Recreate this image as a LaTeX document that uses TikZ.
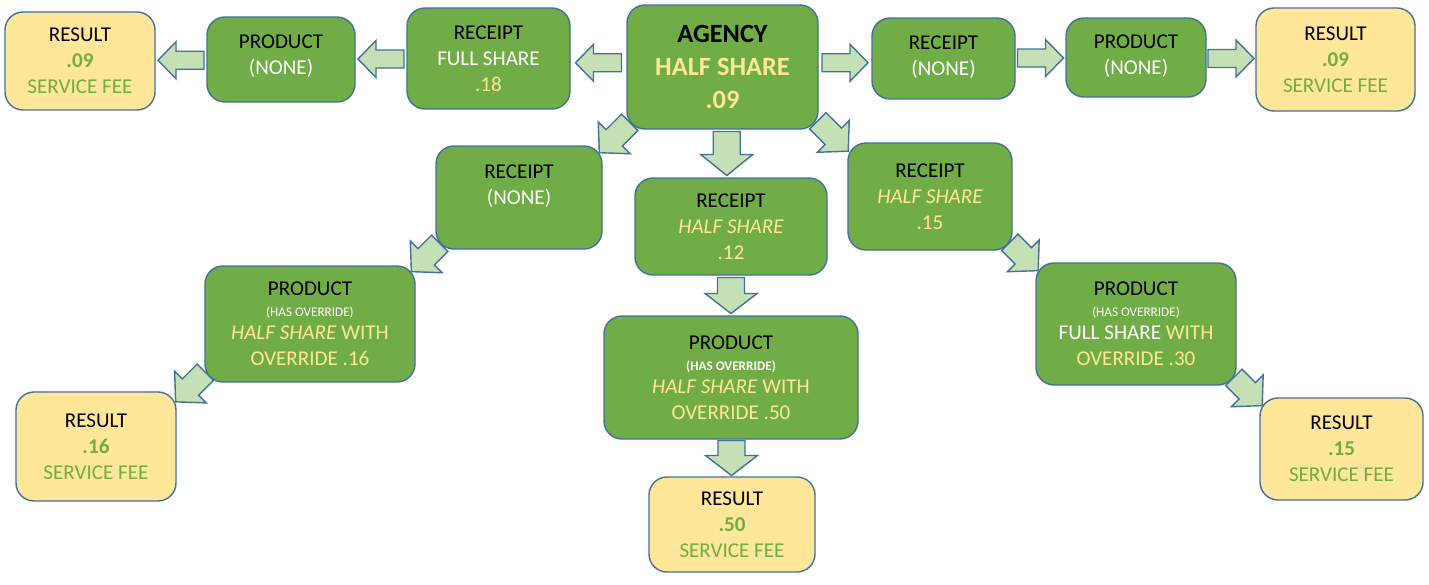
\documentclass[tikz,border=0pt]{standalone}
\usepackage{fontspec}
\setmainfont{Carlito}
\usetikzlibrary{calc}

\definecolor{boxgreen}{HTML}{70AD47}
\definecolor{edgeblue}{HTML}{41719C}
\definecolor{arrowgreen}{HTML}{C5E0B4}
\definecolor{paleyellow}{HTML}{FFE699}

\tikzset{
  stage/.style={draw=edgeblue, fill=boxgreen, line width=0.8pt, rounded corners=0.36cm,
    align=center, inner sep=2pt, font=\fontsize{12}{14.7}\selectfont},
  result/.style={stage, fill=paleyellow},
  flow/.style={draw=edgeblue, fill=arrowgreen, line width=0.8pt, line join=miter}
}

\newcommand{\yel}[1]{{\color{paleyellow}#1}}
\newcommand{\wht}[1]{{\color{white}#1}}
\newcommand{\grn}[1]{{\color{boxgreen}#1}}
\newcommand{\hasoverride}[1][]{{\fontsize{7.5}{9}\selectfont#1\color{white}(HAS OVERRIDE)}}
% block arrow: centre, angle, length, shaft, head width, head length
\newcommand{\flowarrow}[6]{%
  \draw[flow, shift={(#1)}, rotate=#2]
    (-#3/2,-#4/2) -- ({#3/2-#6},-#4/2) -- ({#3/2-#6},-#5/2) -- (#3/2,0)
    -- ({#3/2-#6},#5/2) -- ({#3/2-#6},#4/2) -- (-#3/2,#4/2) -- cycle;}

\begin{document}
\begin{tikzpicture}
\useasboundingbox (0,0) rectangle (28.58,-11.68);
% top row
\node[result, minimum width=3.00cm, minimum height=1.96cm] (r1) at (1.60,-1.22)
  {RESULT\\\grn{\textbf{.09}}\\\grn{SERVICE FEE}};
\node[stage, minimum width=2.96cm, minimum height=1.70cm] (p1) at (5.62,-1.19)
  {PRODUCT\\\wht{(NONE)}\\[-9pt]\mbox{}};
\node[stage, minimum width=3.26cm, minimum height=2.02cm] (rc1) at (9.77,-1.17)
  {RECEIPT\\\wht{FULL SHARE}\\\yel{.18}};
\node[stage, minimum width=3.82cm, minimum height=2.48cm,
  font=\fontsize{15}{18.7}\selectfont\bfseries] (ag) at (14.45,-1.34)
  {AGENCY\\\yel{HALF SHARE}\\\yel{.09}};
\node[stage, minimum width=2.86cm, minimum height=1.62cm] (rc2) at (18.87,-1.17)
  {RECEIPT\\\wht{(NONE)}\\[-11pt]\mbox{}};
\node[stage, minimum width=2.80cm, minimum height=1.58cm] (p2) at (22.72,-1.15)
  {PRODUCT\\\wht{(NONE)}\\[-11pt]\mbox{}};
\node[result, minimum width=3.18cm, minimum height=2.06cm] (r2) at (26.71,-1.19)
  {RESULT\\\grn{\textbf{.09}}\\\grn{SERVICE FEE}};
% receipts
\node[stage, minimum width=3.32cm, minimum height=2.06cm] (rc3) at (10.38,-3.95)
  {RECEIPT\\\wht{(NONE)}\\\mbox{}};
\node[stage, minimum width=3.84cm, minimum height=1.94cm] (rc4) at (14.62,-4.53)
  {RECEIPT\\\yel{\itshape HALF SHARE}\\\yel{.12}};
\node[stage, minimum width=3.28cm, minimum height=2.14cm] (rc5) at (18.60,-3.93)
  {RECEIPT\\\yel{\itshape HALF SHARE}\\\yel{.15}};
% products
\node[stage, minimum width=4.20cm, minimum height=2.32cm] (p3) at (6.20,-6.48)
  {PRODUCT\\[-3pt]\hasoverride\\[-1.5pt]\yel{\textit{HALF SHARE} WITH}\\\yel{OVERRIDE .16}};
\node[stage, minimum width=5.08cm, minimum height=2.46cm] (p4) at (14.62,-7.55)
  {PRODUCT\\[-3pt]\hasoverride[\bfseries]\\[-1.5pt]\yel{\textit{HALF SHARE} WITH}\\\yel{OVERRIDE .50}};
\node[stage, minimum width=4.00cm, minimum height=2.44cm] (p5) at (22.72,-6.48)
  {PRODUCT\\[-3pt]\hasoverride\\[-1.5pt]\wht{FULL SHARE} \yel{WITH}\\\yel{OVERRIDE .30}};
% results
\node[result, minimum width=3.20cm, minimum height=2.18cm] (r3) at (1.92,-8.93)
  {RESULT\\\grn{\textbf{.16}}\\\grn{SERVICE FEE}};
\node[result, minimum width=3.32cm, minimum height=1.90cm] (r4) at (14.64,-10.49)
  {RESULT\\\grn{\textbf{.50}}\\\grn{SERVICE FEE}};
\node[result, minimum width=3.26cm, minimum height=2.04cm] (r5) at (26.83,-8.98)
  {RESULT\\\grn{\textbf{.15}}\\\grn{SERVICE FEE}};
% arrows along the top
\flowarrow{$(ag.west)!.5!(rc1.east)$}{180}{0.92}{0.36}{0.74}{0.36}
\flowarrow{$(rc1.west)!.5!(p1.east)$}{180}{0.92}{0.36}{0.74}{0.36}
\flowarrow{$(p1.west)!.5!(r1.east)$}{180}{0.92}{0.36}{0.74}{0.36}
\flowarrow{$(ag.east)!.5!(rc2.west)$}{0}{0.92}{0.36}{0.74}{0.36}
\flowarrow{$(rc2.east)!.5!(p2.west)$}{0}{0.92}{0.36}{0.74}{0.36}
\flowarrow{$(p2.east)!.5!(r2.west)$}{0}{0.92}{0.36}{0.74}{0.36}
% arrows down the middle
\flowarrow{$(ag.south)!.5!(rc4.north)$}{-90}{0.88}{0.54}{1.04}{0.42}
\flowarrow{$(rc4.south)!.5!(p4.north)$}{-90}{0.72}{0.54}{1.04}{0.40}
\flowarrow{$(p4.south)!.5!(r4.north)$}{-90}{0.70}{0.54}{1.04}{0.40}
% diagonal arrows
\flowarrow{$(ag.south west)!.5!(rc3.north east)$}{225}{0.86}{0.46}{0.90}{0.42}
\flowarrow{$(rc3.south west)!.5!(p3.north east)$}{225}{0.80}{0.46}{0.90}{0.42}
\flowarrow{$(p3.south west)!.5!(r3.north east)$}{225}{0.84}{0.46}{0.90}{0.42}
\flowarrow{$(ag.south east)!.5!(rc5.north west)$}{-45}{0.86}{0.46}{0.90}{0.42}
\flowarrow{$(rc5.south east)!.5!(p5.north west)$}{-45}{0.80}{0.46}{0.90}{0.42}
\flowarrow{$(p5.south east)!.5!(r5.north west)$}{-45}{0.80}{0.46}{0.90}{0.42}
\end{tikzpicture}
\end{document}
